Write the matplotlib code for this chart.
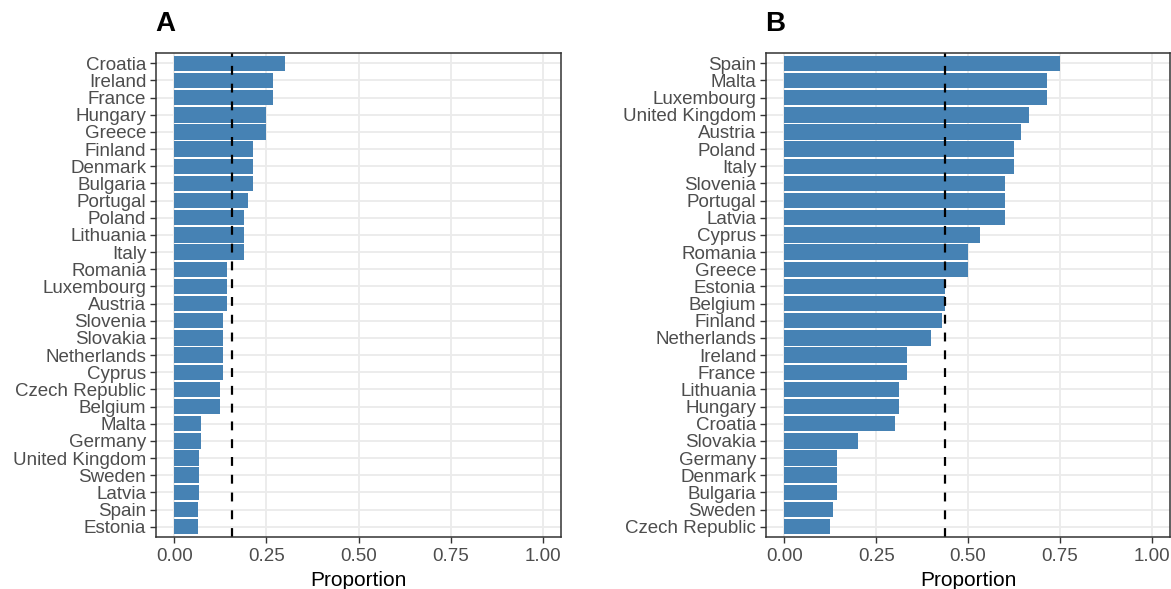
import matplotlib
matplotlib.use("Agg")
import matplotlib.pyplot as plt

plt.rcParams['font.family'] = ['Liberation Sans', 'DejaVu Sans']

# Panel A (top to bottom)
countries_a = ["Croatia", "Ireland", "France", "Hungary", "Greece", "Finland",
               "Denmark", "Bulgaria", "Portugal", "Poland", "Lithuania", "Italy",
               "Romania", "Luxembourg", "Austria", "Slovenia", "Slovakia",
               "Netherlands", "Cyprus", "Czech Republic", "Belgium", "Malta",
               "Germany", "United Kingdom", "Sweden", "Latvia", "Spain", "Estonia"]
prop_a = [0.300, 0.267, 0.267, 0.250, 0.250, 0.214, 0.214, 0.214, 0.200, 0.188,
          0.188, 0.188, 0.143, 0.143, 0.143, 0.133, 0.133, 0.133, 0.133, 0.125,
          0.125, 0.071, 0.071, 0.067, 0.067, 0.067, 0.063, 0.063]
mean_a = 0.157

# Panel B (top to bottom)
countries_b = ["Spain", "Malta", "Luxembourg", "United Kingdom", "Austria", "Poland",
               "Italy", "Slovenia", "Portugal", "Latvia", "Cyprus", "Romania",
               "Greece", "Estonia", "Belgium", "Finland", "Netherlands", "Ireland",
               "France", "Lithuania", "Hungary", "Croatia", "Slovakia", "Germany",
               "Denmark", "Bulgaria", "Sweden", "Czech Republic"]
prop_b = [0.750, 0.714, 0.714, 0.667, 0.643, 0.625, 0.625, 0.600, 0.600, 0.600,
          0.533, 0.500, 0.500, 0.438, 0.438, 0.429, 0.400, 0.333, 0.333, 0.313,
          0.313, 0.300, 0.200, 0.143, 0.143, 0.143, 0.133, 0.125]
mean_b = 0.437

W, H = 1171, 589
fig = plt.figure(figsize=(W / 100, H / 100), dpi=100)

def panel(left, right, names, vals, mean, letter):
    top, bottom = 53, 537
    ax = fig.add_axes([left / W, 1 - bottom / H, (right - left) / W, (bottom - top) / H])
    n = len(names)
    ypos = list(range(n, 0, -1))
    ax.set_axisbelow(True)
    ax.grid(True, color="#EBEBEB", linewidth=1.3)
    ax.barh(ypos, vals, height=0.9, color="#4682B4")
    ax.axvline(mean, color="black", linestyle=(0, (4, 4)), linewidth=1.6)
    ax.set_xlim(-0.05, 1.05)
    ax.set_ylim(0.4, n + 0.6)
    ax.set_yticks(ypos)
    ax.set_yticklabels(names)
    ax.set_xticks([0, 0.25, 0.5, 0.75, 1.0])
    ax.set_xticklabels(["0.00", "0.25", "0.50", "0.75", "1.00"])
    ax.tick_params(labelsize=13.5, labelcolor="#4D4D4D", color="#333333",
                   length=4, width=1)
    ax.tick_params(axis="x", pad=4)
    ax.tick_params(axis="y", pad=3)
    for s in ax.spines.values():
        s.set_color("#333333")
        s.set_linewidth(1.1)
    ax.set_xlabel("Proportion", fontsize=15, labelpad=4)
    fig.text((left - 1) / W, 1 - 24 / H, letter, fontsize=20, fontweight="bold",
             ha="left", va="center")
    return ax

panel(156, 561, countries_a, prop_a, mean_a, "A")
panel(766, 1170, countries_b, prop_b, mean_b, "B")

fig.savefig("out.png", dpi=100)
